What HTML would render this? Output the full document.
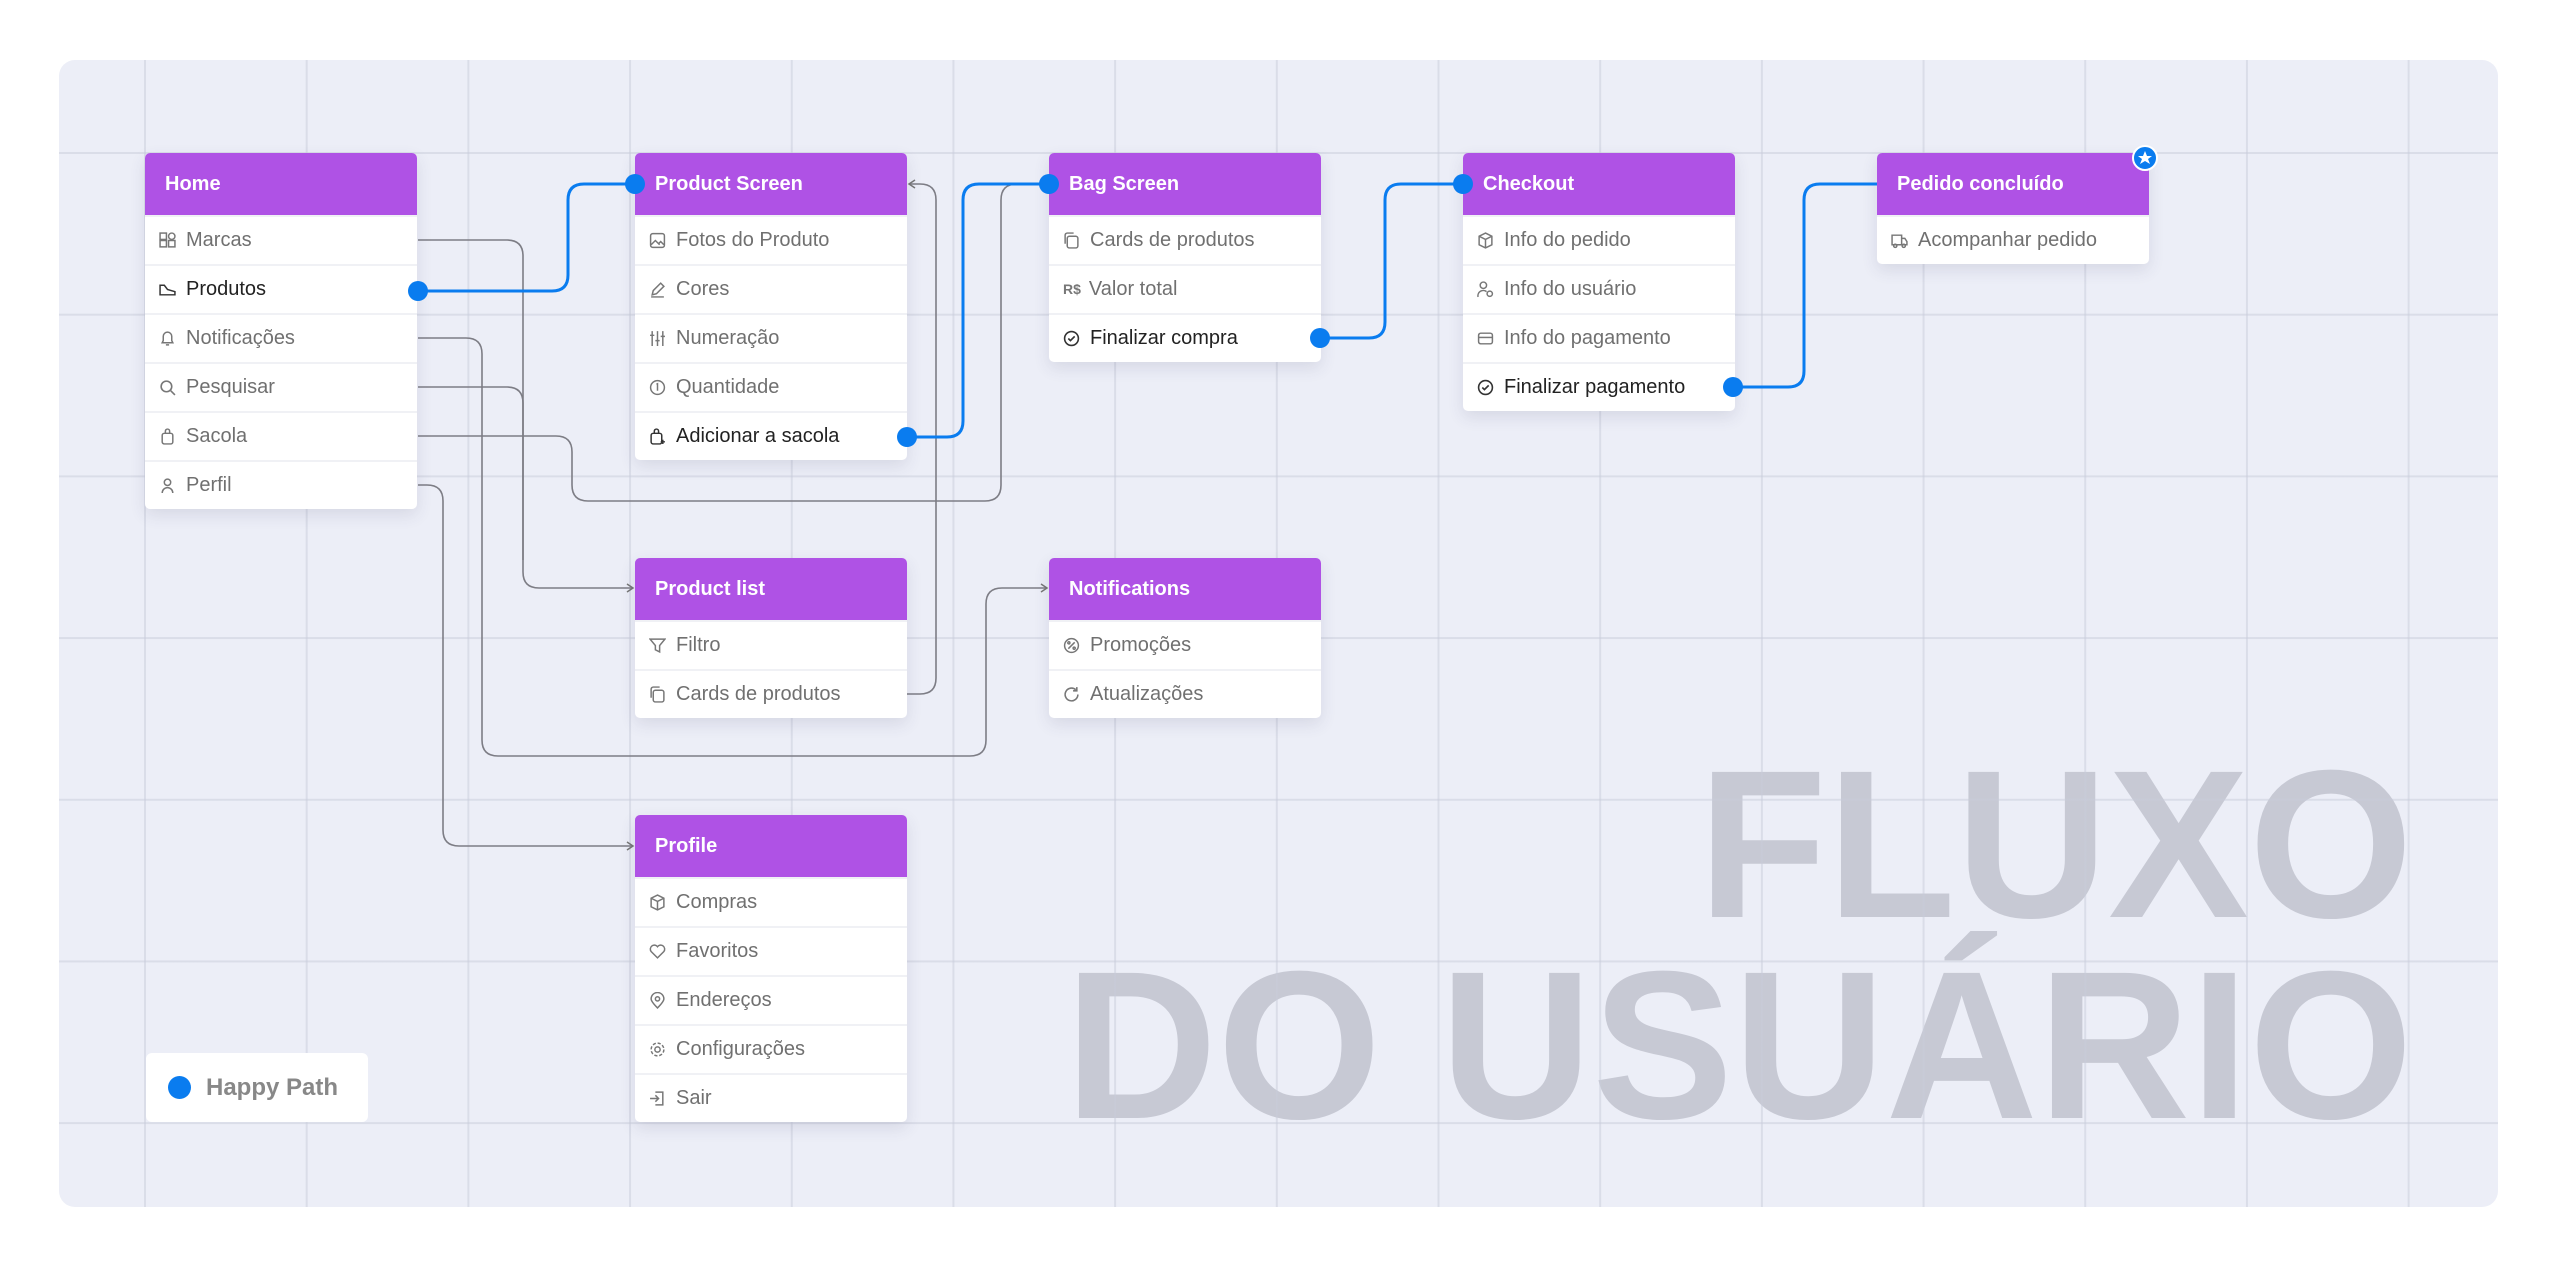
<!DOCTYPE html>
<html><head><meta charset="utf-8"><style>
*{margin:0;padding:0;box-sizing:border-box}
body{width:2560px;height:1268px;background:#fff;position:relative;overflow:hidden;font-family:"Liberation Sans",sans-serif}
#panel{position:absolute;left:59px;top:60px;width:2439px;height:1147px;background:#eceef7;border-radius:16px;overflow:hidden}
#grid{position:absolute;left:0;top:0;width:100%;height:100%;
background-image:linear-gradient(to right,rgba(200,204,218,0.5) 2px,transparent 2px),linear-gradient(to bottom,rgba(200,204,218,0.5) 2px,transparent 2px);
background-size:161.7px 161.7px;background-position:85px 92px}
.card{position:absolute;width:272px;background:#fff;border-radius:5px;box-shadow:0 6px 16px rgba(60,60,100,0.12);overflow:hidden}
.hd{height:62px;background:#af52e5;color:#fff;font-weight:bold;font-size:20px;line-height:62px;padding-left:20px}
.r{height:49px;border-top:2px solid #f0f1f5;font-size:20px;color:#707070;line-height:47px;padding-left:14px;display:flex;align-items:center}
.r svg{width:17px;height:17px;margin-right:10px;flex:none}
.r.d{color:#222}
#legend{position:absolute;left:146px;top:1053px;width:222px;height:69px;background:#fff;border-radius:6px;font-weight:bold;font-size:24px;color:#888;line-height:69px;padding-left:60px}
#legend:before{content:"";position:absolute;left:22px;top:23px;width:23px;height:23px;border-radius:50%;background:#0a7cef}
</style></head><body>
<div id="panel"></div>
<svg style="position:absolute;left:0;top:0" width="2560" height="1268">
<text x="2413" y="917" text-anchor="end" font-family="Liberation Sans" font-weight="bold" font-size="211" fill="#c7c9d4">FLUXO</text>
<text x="2413" y="1118" text-anchor="end" font-family="Liberation Sans" font-weight="bold" font-size="211" fill="#c7c9d4">DO USUÁRIO</text>
</svg>
<div style="position:absolute;left:59px;top:60px;width:2439px;height:1147px;border-radius:16px;overflow:hidden"><div id="grid"></div></div>

<svg style="position:absolute;left:0;top:0" width="2560" height="1268" fill="none">
<defs><marker id="a" markerWidth="10" markerHeight="10" refX="8" refY="5" orient="auto" markerUnits="userSpaceOnUse"><path d="M2,1 L8,5 L2,9" stroke="#777" stroke-width="1.5" fill="none"/></marker></defs>
<g stroke="#7d7d85" stroke-width="1.6">
<path d="M418 240 H507 Q523 240 523 256 V572 Q523 588 539 588 H633" marker-end="url(#a)"/>
<path d="M418 387 H507 Q523 387 523 403 V560"/>
<path d="M418 338 H466 Q482 338 482 354 V740 Q482 756 498 756 H970 Q986 756 986 740 V604 Q986 588 1002 588 H1047" marker-end="url(#a)"/>
<path d="M418 436 H556 Q572 436 572 452 V485 Q572 501 588 501 H985 Q1001 501 1001 485 V200 Q1001 184 1017 184 H1049"/>
<path d="M418 485 H427 Q443 485 443 501 V830 Q443 846 459 846 H633" marker-end="url(#a)"/>
<path d="M907 694 H920 Q936 694 936 678 V200 Q936 184 920 184 H909" marker-end="url(#a)"/>
</g>
</svg>

<div class="card" style="left:145px;top:153px"><div class="hd">Home</div>
<div class="r"><svg viewBox="0 0 16 16" stroke="#777" fill="none" stroke-width="1.4"><rect x="1" y="8" width="6" height="6"/><rect x="9" y="8" width="6" height="6"/><rect x="1" y="1" width="6" height="6"/><circle cx="12" cy="4" r="3"/></svg>Marcas</div>
<div class="r d"><svg viewBox="0 0 16 16" stroke="#333" fill="none" stroke-width="1.4"><path d="M1 4 V13 H15 V10 L8 8 L5 4 Z"/></svg>Produtos</div>
<div class="r"><svg viewBox="0 0 16 16" stroke="#777" fill="none" stroke-width="1.4"><path d="M3 12 H13 L12 10 V6 A4 4 0 0 0 4 6 V10 Z M6.5 14 H9.5"/></svg>Notificações</div>
<div class="r"><svg viewBox="0 0 16 16" stroke="#777" fill="none" stroke-width="1.5"><circle cx="7" cy="7" r="5"/><path d="M11 11 L15 15"/></svg>Pesquisar</div>
<div class="r"><svg viewBox="0 0 16 16" stroke="#777" fill="none" stroke-width="1.4"><rect x="3" y="5" width="10" height="10" rx="2"/><path d="M6 5 V3 A2 2 0 0 1 10 3 V5"/></svg>Sacola</div>
<div class="r"><svg viewBox="0 0 16 16" stroke="#777" fill="none" stroke-width="1.4"><circle cx="8" cy="5" r="3"/><path d="M3 15 A5 5 0 0 1 13 15"/></svg>Perfil</div>
</div>

<div class="card" style="left:635px;top:153px"><div class="hd">Product Screen</div>
<div class="r"><svg viewBox="0 0 16 16" stroke="#777" fill="none" stroke-width="1.4"><rect x="1.5" y="1.5" width="13" height="13" rx="2"/><path d="M2 12 L6 8 L10 12 M9 11 L11 9 L14 12"/></svg>Fotos do Produto</div>
<div class="r"><svg viewBox="0 0 16 16" stroke="#777" fill="none" stroke-width="1.4"><path d="M3 13 L4 9 L11 2 L14 5 L7 12 Z M2 15 H14"/></svg>Cores</div>
<div class="r"><svg viewBox="0 0 16 16" stroke="#777" fill="none" stroke-width="1.4"><path d="M3 1 V15 M8 1 V15 M13 1 V15 M1 5 H5 M6 10 H10 M11 6 H15"/></svg>Numeração</div>
<div class="r"><svg viewBox="0 0 16 16" stroke="#777" fill="none" stroke-width="1.4"><circle cx="8" cy="8" r="6.5"/><path d="M7 5 L8 4.5 V11"/></svg>Quantidade</div>
<div class="r d"><svg viewBox="0 0 16 16" stroke="#333" fill="none" stroke-width="1.4"><rect x="2" y="5" width="10" height="10" rx="2"/><path d="M5 5 V3 A2 2 0 0 1 9 3 V5 M13 11 V15 M11 13 H15"/></svg>Adicionar a sacola</div>
</div>

<div class="card" style="left:1049px;top:153px"><div class="hd">Bag Screen</div>
<div class="r"><svg viewBox="0 0 16 16" stroke="#777" fill="none" stroke-width="1.4"><rect x="4" y="4" width="10" height="11" rx="2"/><path d="M2 11 V3 A2 2 0 0 1 4 1 H10"/></svg>Cards de produtos</div>
<div class="r"><span style="font-size:14px;margin-right:8px;color:#777;font-weight:bold">R$</span>Valor total</div>
<div class="r d"><svg viewBox="0 0 16 16" stroke="#333" fill="none" stroke-width="1.5"><circle cx="8" cy="8" r="6.5"/><path d="M5 8 L7 10 L11 6"/></svg>Finalizar compra</div>
</div>

<div class="card" style="left:1463px;top:153px"><div class="hd">Checkout</div>
<div class="r"><svg viewBox="0 0 16 16" stroke="#777" fill="none" stroke-width="1.4"><path d="M8 1 L14 4 V12 L8 15 L2 12 V4 Z M2 4 L8 7 L14 4 M8 7 V15"/></svg>Info do pedido</div>
<div class="r"><svg viewBox="0 0 16 16" stroke="#777" fill="none" stroke-width="1.4"><circle cx="6" cy="4" r="3"/><path d="M1 15 A5 5 0 0 1 9 10"/><circle cx="12" cy="12" r="2.5"/></svg>Info do usuário</div>
<div class="r"><svg viewBox="0 0 16 16" stroke="#777" fill="none" stroke-width="1.4"><rect x="1.5" y="3" width="13" height="10" rx="2"/><path d="M1.5 7 H14.5"/></svg>Info do pagamento</div>
<div class="r d"><svg viewBox="0 0 16 16" stroke="#333" fill="none" stroke-width="1.5"><circle cx="8" cy="8" r="6.5"/><path d="M5 8 L7 10 L11 6"/></svg>Finalizar pagamento</div>
</div>

<div class="card" style="left:1877px;top:153px"><div class="hd">Pedido concluído</div>
<div class="r"><svg viewBox="0 0 16 16" stroke="#777" fill="none" stroke-width="1.4"><path d="M1 3 H10 V12 H1 Z M10 6 H13 L15 9 V12 H10"/><circle cx="4" cy="13" r="1.5"/><circle cx="12" cy="13" r="1.5"/></svg>Acompanhar pedido</div>
</div>

<div class="card" style="left:635px;top:558px"><div class="hd">Product list</div>
<div class="r"><svg viewBox="0 0 16 16" stroke="#777" fill="none" stroke-width="1.4"><path d="M1 2 H15 L10 8 V14 L6 12 V8 Z"/></svg>Filtro</div>
<div class="r"><svg viewBox="0 0 16 16" stroke="#777" fill="none" stroke-width="1.4"><rect x="4" y="4" width="10" height="11" rx="2"/><path d="M2 11 V3 A2 2 0 0 1 4 1 H10"/></svg>Cards de produtos</div>
</div>

<div class="card" style="left:1049px;top:558px"><div class="hd">Notifications</div>
<div class="r"><svg viewBox="0 0 16 16" stroke="#777" fill="none" stroke-width="1.4"><circle cx="8" cy="8" r="6.5"/><path d="M5 11 L11 5"/><circle cx="5.5" cy="5.5" r="1"/><circle cx="10.5" cy="10.5" r="1"/></svg>Promoções</div>
<div class="r"><svg viewBox="0 0 16 16" stroke="#777" fill="none" stroke-width="1.5"><path d="M14 8 A6 6 0 1 1 12 3.5 M13 1 V4.5 H9.5"/></svg>Atualizações</div>
</div>

<div class="card" style="left:635px;top:815px"><div class="hd">Profile</div>
<div class="r"><svg viewBox="0 0 16 16" stroke="#777" fill="none" stroke-width="1.4"><path d="M8 1 L14 4 V12 L8 15 L2 12 V4 Z M2 4 L8 7 L14 4 M8 7 V15"/></svg>Compras</div>
<div class="r"><svg viewBox="0 0 16 16" stroke="#777" fill="none" stroke-width="1.4"><path d="M8 14 L2 8 A3.5 3.5 0 0 1 8 3.5 A3.5 3.5 0 0 1 14 8 Z"/></svg>Favoritos</div>
<div class="r"><svg viewBox="0 0 16 16" stroke="#777" fill="none" stroke-width="1.4"><path d="M8 15 C3 10 2 8 2 6.5 A6 6 0 0 1 14 6.5 C14 8 13 10 8 15 Z"/><circle cx="8" cy="6.5" r="2"/></svg>Endereços</div>
<div class="r"><svg viewBox="0 0 16 16" stroke="#777" fill="none" stroke-width="1.4"><circle cx="8" cy="8" r="2.5"/><circle cx="8" cy="8" r="6" stroke-dasharray="3 1.7"/></svg>Configurações</div>
<div class="r"><svg viewBox="0 0 16 16" stroke="#777" fill="none" stroke-width="1.4"><path d="M6 2 H13 V14 H6 M1 8 H9 M6 5 L9 8 L6 11"/></svg>Sair</div>
</div>

<div id="legend">Happy Path</div>

<svg style="position:absolute;left:0;top:0" width="2560" height="1268" fill="none">
<g stroke="#0a7cef" stroke-width="3">
<path d="M418 291 H552 Q568 291 568 275 V200 Q568 184 584 184 H635"/>
<path d="M907 437 H947 Q963 437 963 421 V200 Q963 184 979 184 H1049"/>
<path d="M1320 338 H1369 Q1385 338 1385 322 V200 Q1385 184 1401 184 H1463"/>
<path d="M1733 387 H1788 Q1804 387 1804 371 V200 Q1804 184 1820 184 H1877"/>
</g>
<g fill="#0a7cef">
<circle cx="418" cy="291" r="10"/><circle cx="635" cy="184" r="10"/>
<circle cx="907" cy="437" r="10"/><circle cx="1049" cy="184" r="10"/>
<circle cx="1320" cy="338" r="10"/><circle cx="1463" cy="184" r="10"/>
<circle cx="1733" cy="387" r="10"/>
<circle cx="2145" cy="158" r="12" stroke="#fff" stroke-width="2"/>
</g>
<path d="M2145 151 L2147 156 L2152 156 L2148 159 L2150 164 L2145 161 L2140 164 L2142 159 L2138 156 L2143 156 Z" fill="#fff"/>
</svg>
</body></html>
